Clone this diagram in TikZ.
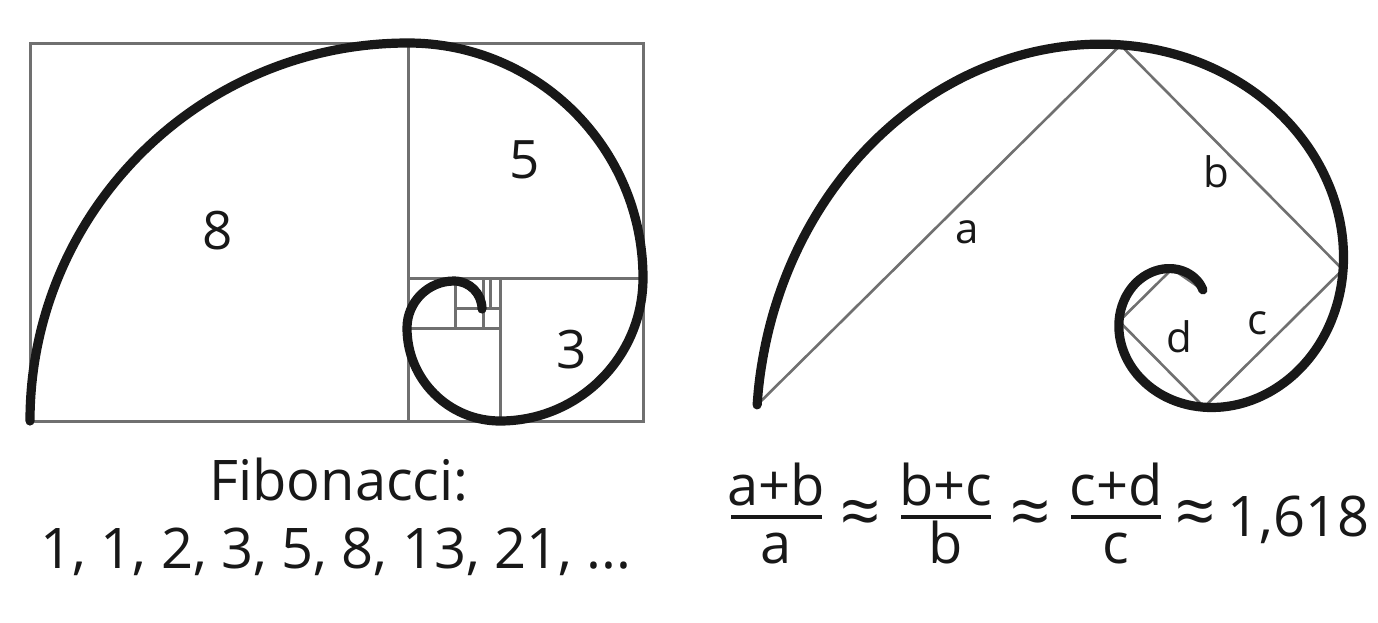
\documentclass[tikz,border=0pt]{standalone}
\usepackage{fontspec}
\setmainfont{Open Sans}
\definecolor{gridgray}{RGB}{112,112,112}
\definecolor{ink}{RGB}{24,24,24}
\begin{document}
\begin{tikzpicture}[x=0.5pt,y=-0.5pt,
  grid/.style={draw=gridgray,line width=1.5pt},
  spiral/.style={draw=ink,line width=4.6pt,line cap=round},
  chord/.style={draw=gridgray,line width=1.3pt},
  numlbl/.style={font=\fontsize{26.5}{30}\selectfont,text=ink,inner sep=0pt},
  letlbl/.style={font=\fontsize{21}{25}\selectfont,text=ink,inner sep=0pt},
  txt/.style={font=\fontsize{28}{33}\selectfont,text=ink,inner sep=0pt},
  approx/.style={font=\fontsize{35}{40}\selectfont,text=ink,inner sep=0pt},
  fracbar/.style={draw=ink,line width=2pt}]
\useasboundingbox (0,0) rectangle (1378,622);
% ---------- left: Fibonacci rectangle ----------
\draw[grid] (30,43) rectangle (643,421);
\draw[grid] (408,43) -- (408,421);
\draw[grid] (408,278) -- (643,278);
\draw[grid] (500,278) -- (500,421);
\draw[grid] (408,328) -- (500,328);
\draw[grid] (455,278) -- (455,328);
\draw[grid] (455,308) -- (500,308);
\draw[grid] (483,278) -- (483,328);
\draw[grid] (490,278) -- (490,308);
\draw[spiral] (30,421)
  arc[start angle=180,end angle=270,radius=378]
  arc[start angle=270,end angle=360,radius=235]
  arc[start angle=0,end angle=90,radius=143]
  arc[start angle=90,end angle=180,radius=93]
  arc[start angle=180,end angle=270,radius=47]
  arc[start angle=270,end angle=360,radius=28];
\node[numlbl] (l8) at (218,231) {8};
\node[numlbl] (l5) at (525,160) {5};
\node[numlbl] (l3) at (572,350) {3};
\node[txt,anchor=base] (fib) at (339,500) {Fibonacci:};
\node[txt,anchor=base] (seq) at (336,568) {1, 1, 2, 3, 5, 8, 13, 21, ...};
% ---------- right: golden spiral ----------
\coordinate (p0) at (757.2,404.9);
\coordinate (p1) at (1120.5,45.1);
\coordinate (p2) at (1342.8,269.6);
\coordinate (p3) at (1204.1,407.1);
\coordinate (p4) at (1119.1,321.3);
\coordinate (p5) at (1172.2,268.8);
\coordinate (p6) at (1202.8,289.9);
\draw[chord] (p0) -- (p1) -- (p2) -- (p3) -- (p4) -- (p5) -- (p6);
\draw[spiral] plot[domain=0:515,samples=260,variable=\t,smooth]
  ({1181+435*exp(-0.005346*\t)*cos(193-\t)},{307-435*exp(-0.005346*\t)*sin(193-\t)});
\node[letlbl] (la) at (967,232) {a};
\node[letlbl] (lb) at (1216,172) {b};
\node[letlbl] (lc) at (1257,323) {c};
\node[letlbl] (ld) at (1179,337) {d};
% ---------- formula ----------
\node[txt,anchor=base] (n1) at (776,505) {a+b};
\node[txt,anchor=base] (d1) at (776,563) {a};
\draw[fracbar] (731,517) -- (822,517);
\node[approx] (ap1) at (861,518) {≈};
\node[txt,anchor=base] (n2) at (946,505) {b+c};
\node[txt,anchor=base] (d2) at (946,563) {b};
\draw[fracbar] (901,517) -- (991,517);
\node[approx] (ap2) at (1031,518) {≈};
\node[txt,anchor=base] (n3) at (1116,505) {c+d};
\node[txt,anchor=base] (d3) at (1116,563) {c};
\draw[fracbar] (1071,517) -- (1161,517);
\node[approx] (ap3) at (1196,518) {≈};
\node[txt,anchor=base west] (phi) at (1227,536) {1,618};
\end{tikzpicture}
\end{document}
